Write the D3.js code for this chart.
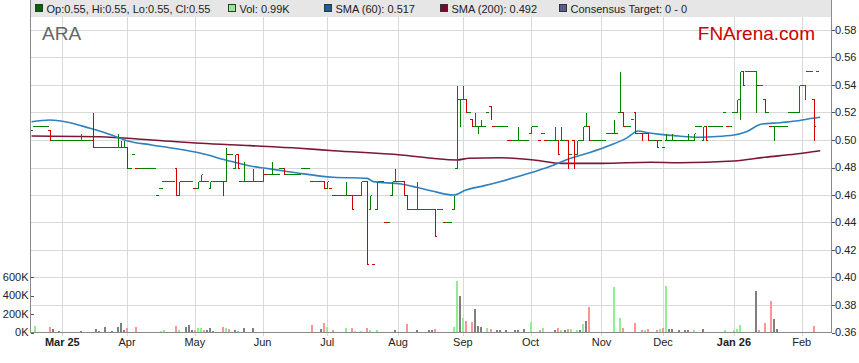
<!DOCTYPE html>
<html><head><meta charset="utf-8">
<script src="https://cdn.jsdelivr.net/npm/d3@7/dist/d3.min.js"></script>
<style>
body{margin:0;background:#fff;}
svg{display:block;font-family:"Liberation Sans",Arial,sans-serif;}
</style>
</head><body>
<svg id="chart" width="859" height="363"></svg>
<script>
// ---------- DATA (one entry per weekday starting 2025-02-17) ----------
const startDate = "2025-02-17";
const closes = [
.507,.51,.51,.51,.51,.51,.50,.50,.50,.50,
.50,.50,.50,.50,.50,.50,.50,.50,.50,.50,
.495,.495,.495,.495,.495,.495,.495,.495,.495,.495,
.495,.48,.48,.49,.48,.48,.48,.48,.48,.48,
.48,.46,.465,.47,.47,.47,.47,.46,.47,.47,
.47,.47,.47,.465,.47,.475,.47,.47,.47,.47,
.47,.47,.46,.495,.49,.49,.49,.48,.47,.47,
.47,.47,.47,.47,.47,.48,.475,.475,.475,.475,
.475,.48,.475,.475,.475,.475,.475,.475,.48,.48,
.48,.47,.47,.47,.47,.465,.47,.465,.46,.46,
.46,.46,.47,.46,.45,.46,.46,.47,.47,.41,
.46,.41,.47,.47,.47,.44,.44,.47,.47,.47,
.47,.46,.45,.45,.45,.45,.45,.45,.45,.45,
.45,.43,.45,.45,.44,.44,.44,.46,.53,.53,
.54,.52,.52,.51,.51,.51,.51,.51,.52,.515,
.51,.51,.51,.51,.51,.50,.50,.50,.50,.50,
.50,.50,.51,.51,.51,.50,.505,.50,.50,.50,
.50,.49,.50,.50,.48,.49,.48,.50,.50,.51,
.51,.50,.50,.50,.50,.50,.50,.505,.505,.515,
.505,.52,.51,.51,.51,.515,.505,.505,.50,.505,
.50,.50,.50,.495,.50,.495,.50,.50,.50,.50,
.50,.50,.50,.50,.50,.505,.51,.51,.51,.50,
.51,.51,.51,.51,.51,.52,.51,.51,.52,.53,
.55,.54,.55,.55,.55,.55,.54,.54,.52,.52,
.51,.51,.51,.51,.51,.51,.52,.52,.52,.54,
.54,.54,.55,.55,.51,.55
];
const opens = [
.507,.51,.51,.51,.51,.51,.507,.50,.50,.50,
.50,.50,.50,.50,.50,.50,.50,.50,.50,.50,
.50,.495,.495,.495,.495,.495,.495,.495,.495,.495,
.495,.495,.48,.49,.48,.48,.48,.48,.48,.48,
.48,.46,.465,.47,.47,.47,.47,.48,.46,.47,
.47,.47,.47,.465,.465,.47,.47,.47,.465,.47,
.47,.47,.47,.47,.49,.49,.48,.49,.47,.47,
.47,.47,.47,.47,.47,.47,.475,.475,.475,.475,
.475,.48,.48,.475,.475,.475,.475,.475,.48,.48,
.48,.47,.47,.47,.47,.47,.465,.465,.46,.46,
.46,.46,.46,.46,.46,.46,.46,.46,.47,.47,
.45,.41,.45,.47,.47,.44,.44,.46,.47,.47,
.47,.47,.46,.45,.45,.45,.45,.45,.45,.45,
.45,.45,.45,.45,.44,.44,.44,.45,.48,.53,
.53,.53,.52,.515,.51,.51,.51,.51,.52,.525,
.51,.51,.51,.51,.51,.50,.50,.50,.50,.50,
.50,.50,.505,.51,.51,.50,.505,.50,.50,.50,
.50,.50,.50,.50,.50,.49,.50,.49,.50,.50,
.51,.51,.50,.50,.50,.50,.50,.505,.505,.505,
.505,.52,.52,.51,.51,.515,.52,.505,.505,.505,
.505,.50,.50,.50,.50,.495,.50,.50,.50,.50,
.50,.50,.50,.50,.50,.50,.51,.51,.50,.51,
.51,.51,.51,.51,.51,.52,.51,.51,.52,.52,
.53,.55,.55,.55,.55,.55,.54,.54,.53,.52,
.51,.51,.51,.51,.51,.51,.52,.52,.52,.52,
.54,.54,.55,.55,.53,.55
];
const highs = [
.507,.51,.51,.51,.51,.51,.507,.50,.50,.50,
.50,.50,.50,.50,.50,.50,.505,.50,.50,.50,
.52,.495,.495,.495,.495,.495,.495,.495,.505,.50,
.50,.495,.48,.49,.48,.48,.48,.48,.48,.48,
.48,.46,.465,.47,.47,.47,.47,.48,.47,.47,
.47,.47,.47,.465,.47,.475,.47,.47,.47,.47,
.47,.47,.47,.495,.49,.49,.49,.49,.47,.485,
.47,.47,.48,.47,.47,.48,.475,.475,.485,.475,
.475,.48,.48,.475,.475,.475,.475,.475,.48,.48,
.48,.47,.47,.47,.47,.47,.47,.465,.46,.46,
.46,.46,.47,.46,.46,.46,.46,.47,.47,.47,
.46,.41,.47,.47,.47,.44,.44,.47,.48,.47,
.47,.47,.46,.45,.45,.47,.45,.45,.45,.45,
.45,.45,.45,.45,.44,.44,.44,.46,.54,.53,
.54,.53,.52,.515,.52,.51,.515,.51,.52,.525,
.51,.51,.51,.51,.51,.50,.50,.50,.51,.50,
.50,.50,.51,.51,.51,.50,.505,.50,.50,.50,
.51,.50,.51,.50,.50,.49,.50,.50,.50,.51,
.52,.51,.50,.50,.50,.50,.50,.505,.505,.515,
.505,.55,.52,.51,.51,.515,.52,.505,.505,.505,
.505,.50,.50,.50,.50,.495,.505,.50,.505,.50,
.50,.50,.50,.505,.50,.505,.51,.51,.51,.51,
.51,.51,.51,.51,.51,.52,.51,.51,.52,.53,
.55,.55,.55,.55,.55,.55,.54,.54,.53,.52,
.51,.51,.51,.51,.51,.51,.52,.52,.52,.54,
.54,.54,.55,.55,.53,.55
];
const lows = [
.507,.51,.51,.51,.51,.51,.50,.50,.50,.50,
.50,.50,.50,.50,.50,.50,.50,.50,.50,.50,
.495,.495,.495,.495,.495,.495,.495,.495,.495,.495,
.495,.48,.48,.49,.48,.48,.48,.48,.48,.48,
.48,.46,.465,.47,.47,.47,.47,.46,.46,.47,
.47,.47,.47,.465,.465,.47,.47,.47,.465,.47,
.47,.47,.46,.47,.49,.49,.48,.48,.47,.47,
.47,.47,.47,.47,.47,.47,.475,.475,.475,.475,
.475,.48,.475,.475,.475,.475,.475,.475,.48,.48,
.48,.47,.47,.47,.47,.465,.465,.465,.46,.46,
.46,.46,.46,.46,.45,.46,.46,.46,.47,.41,
.45,.41,.45,.47,.47,.44,.44,.46,.47,.47,
.47,.46,.45,.45,.45,.45,.45,.45,.45,.45,
.45,.43,.45,.45,.44,.44,.44,.45,.48,.51,
.53,.52,.52,.51,.51,.505,.51,.51,.52,.515,
.51,.51,.51,.51,.51,.50,.50,.50,.50,.50,
.50,.50,.505,.51,.51,.50,.505,.50,.50,.50,
.50,.49,.50,.50,.48,.49,.48,.49,.50,.50,
.51,.50,.50,.50,.50,.50,.50,.505,.505,.505,
.505,.52,.51,.51,.51,.515,.505,.505,.50,.505,
.50,.50,.50,.495,.50,.495,.50,.50,.50,.50,
.50,.50,.50,.50,.50,.50,.51,.51,.50,.50,
.51,.51,.51,.51,.51,.52,.51,.51,.52,.52,
.515,.54,.55,.55,.55,.52,.54,.54,.52,.52,
.51,.50,.51,.51,.51,.51,.52,.52,.52,.52,
.54,.53,.55,.55,.50,.55
];
// volumes in thousands of shares
const volumes = [
0,68,0,10,0,0,57,35,0,12,
10,0,0,0,0,0,20,0,0,0,
0,35,12,0,55,0,12,0,55,104,
25,45,0,0,57,0,0,0,0,0,
0,0,12,25,0,0,0,68,25,0,
57,80,25,25,45,45,25,25,45,12,
0,0,57,45,35,0,25,12,0,45,
0,0,45,0,0,10,0,0,10,10,
0,0,0,0,0,0,0,0,0,0,
0,80,0,0,35,104,57,0,25,0,
0,0,45,0,45,12,0,12,0,45,
25,0,25,0,0,0,0,0,25,0,
0,10,87,0,0,25,10,0,10,25,
25,35,0,0,0,0,0,57,555,396,
162,122,0,112,252,68,57,0,45,35,
0,25,25,10,25,0,0,25,25,0,
35,0,110,10,0,25,45,10,0,0,
25,45,25,25,35,35,10,25,25,97,
122,277,10,10,0,0,0,0,0,493,
0,158,50,0,0,0,100,0,25,25,
35,0,0,25,35,50,504,35,35,0,
25,0,25,25,0,25,10,0,35,0,
10,10,0,0,0,25,10,0,25,35,
85,10,0,0,0,450,25,0,100,0,
338,150,35,0,0,0,0,0,0,10,
10,0,0,0,68,0.99
];
// moving averages (day index, value)
const sma60Days = [0,6,11,19,26,31,39,46,55,63,71,76,82,87,98,109,111,120,125,130,137,141,147,152,162,168,175,181,188,193,197,200,204,210,216,221,228,232,237,243,248,252,256];
const sma60 = [.5133,.5145,.5133,.5085,.5036,.4995,.4964,.494,.4903,.4855,.4811,.4794,.4775,.4758,.4729,.4721,.4697,.468,.4656,.4629,.46,.4636,.4668,.4697,.4762,.4806,.4867,.4908,.4964,.5012,.5065,.5053,.5041,.5029,.502,.5024,.5036,.506,.5116,.5126,.5138,.5153,.5165];
const sma200Days = [0,22,39,55,71,87,98,120,130,138,142,152,163,172,185,201,210,228,238,248,256];
const sma200 = [.5029,.5024,.50,.4976,.4959,.494,.4922,.4891,.4867,.4855,.4867,.4871,.4855,.483,.483,.4838,.4835,.4847,.4874,.4898,.4922];
// axes
const monthTickDates = ["2025-03-03","2025-04-01","2025-05-01","2025-06-02","2025-07-01","2025-08-01","2025-09-01","2025-10-01","2025-11-03","2025-12-01","2026-01-01","2026-02-02"];
const monthTickLabels = ["Mar 25","Apr","May","Jun","Jul","Aug","Sep","Oct","Nov","Dec","Jan 26","Feb"];
const boldTicks = ["Mar 25","Jan 26"];
const priceTicks = [0.36,0.38,0.40,0.42,0.44,0.46,0.48,0.50,0.52,0.54,0.56,0.58];
const volTicks = [0,200,400,600];
const legendItems = ["Op:0.55, Hi:0.55, Lo:0.55, Cl:0.55","Vol: 0.99K","SMA (60): 0.517","SMA (200): 0.492","Consensus Target: 0 - 0"];
const legendColors = ["#006400","#90ee90","#1a5f9e","#7a0a2c","#5c5c8c"];

// ---------- LAYOUT ----------
const svg = d3.select("#chart");
const L = 30.5, R = 831.5, bandH = 17, baseY = 332.5;
const x = d3.scaleLinear().domain([0, 259.7]).range([31.5, 31.5 + 259.7 * 3.081]);
const y = d3.scaleLinear().domain([0.36, 0.58]).range([332.5, 30]);
const yv = d3.scaleLinear().domain([0, 600]).range([332.5, 277]);
const px = v => Math.round(v) + 0.5;

function dayIndex(s) {
  const d0 = new Date(startDate + "T00:00:00Z"), d1 = new Date(s + "T00:00:00Z");
  let n = 0;
  for (let d = new Date(d0); d < d1; d.setUTCDate(d.getUTCDate() + 1)) {
    const w = d.getUTCDay(); if (w !== 0 && w !== 6) n++;
  }
  return n;
}
const tickIdx = monthTickDates.map(dayIndex);

svg.append("rect").attr("width", 859).attr("height", 363).attr("fill", "#fff");

// grid
const grid = svg.append("g").attr("stroke", "#d9d9d9").attr("stroke-width", 1).attr("shape-rendering", "crispEdges");
grid.selectAll("line.h").data(priceTicks.slice(1)).join("line")
  .attr("x1", L).attr("x2", R).attr("y1", d => px(y(d))).attr("y2", d => px(y(d)));
grid.selectAll("line.v").data(tickIdx).join("line")
  .attr("x1", d => px(x(d))).attr("x2", d => px(x(d))).attr("y1", bandH).attr("y2", 336);

// legend band
svg.append("rect").attr("x", L).attr("y", 0).attr("width", R - L).attr("height", bandH).attr("fill", "#e6e6e6");
const legX = [35, 228, 324, 440, 559];
const lg = svg.append("g").attr("font-size", 11).attr("fill", "#222");
legendItems.forEach((t, k) => {
  lg.append("rect").attr("x", legX[k] + 0.5).attr("y", 4.5).attr("width", 7).attr("height", 7)
    .attr("fill", legendColors[k]).attr("stroke", "#333").attr("stroke-width", 1).attr("shape-rendering", "crispEdges");
  lg.append("text").attr("x", legX[k] + 11.5).attr("y", 12.5).text(t);
});

// watermark texts
svg.append("text").attr("x", 42).attr("y", 39.5).attr("font-size", 19).attr("fill", "#666").text("ARA");
svg.append("text").attr("x", 815).attr("y", 39.5).attr("text-anchor", "end").attr("font-size", 19).attr("fill", "#cc0000").text("FNArena.com");

// volume bars
const dir = closes.map((c, i) => i === 0 ? 1 : (c > closes[i - 1] ? 1 : (c < closes[i - 1] ? -1 : 0)));
const volColor = d => d > 0 ? "#8fee8f" : (d < 0 ? "#ff9494" : "#7f7f7f");
svg.append("g").attr("shape-rendering", "crispEdges").selectAll("rect")
  .data(volumes.map((v, i) => ({ v, i })).filter(d => d.v > 0)).join("rect")
  .attr("x", d => Math.round(x(d.i)) - 1).attr("width", 2)
  .attr("y", d => yv(d.v)).attr("height", d => baseY - yv(d.v))
  .attr("fill", d => volColor(dir[d.i]));

// SMA lines
const line = d3.line().curve(d3.curveMonotoneX);
svg.append("path").attr("d", line(sma200Days.map((d, k) => [x(d), y(sma200[k])])))
  .attr("fill", "none").attr("stroke", "#7d1636").attr("stroke-width", 1.6);
svg.append("path").attr("d", line(sma60Days.map((d, k) => [x(d), y(sma60[k])])))
  .attr("fill", "none").attr("stroke", "#2f80c0").attr("stroke-width", 1.6);

// OHLC bars
const bars = svg.append("g").attr("shape-rendering", "crispEdges").attr("stroke-width", 1);
closes.forEach((c, i) => {
  const col = dir[i] < 0 ? "#d40000" : "#008000";
  const cx = px(x(i));
  const g = bars.append("g").attr("stroke", col);
  if (highs[i] !== lows[i]) g.append("line").attr("x1", cx).attr("x2", cx).attr("y1", px(y(highs[i]))).attr("y2", px(y(lows[i])));
  g.append("line").attr("x1", x(i) - 1.6).attr("x2", cx).attr("y1", px(y(opens[i]))).attr("y2", px(y(opens[i])));
  g.append("line").attr("x1", cx).attr("x2", x(i) + 1.6).attr("y1", px(y(c))).attr("y2", px(y(c)));
});

// frame / axes
const fr = svg.append("g").attr("stroke", "#8a8a8a").attr("stroke-width", 1).attr("shape-rendering", "crispEdges");
fr.append("line").attr("x1", L).attr("x2", L).attr("y1", 0).attr("y2", baseY);
fr.append("line").attr("x1", R).attr("x2", R).attr("y1", 0).attr("y2", baseY);
fr.append("line").attr("x1", L).attr("x2", R).attr("y1", baseY).attr("y2", baseY);

// right price axis
const ra = svg.append("g").attr("transform", `translate(${R},0)`);
ra.selectAll("line").data(priceTicks).join("line").attr("x1", 0).attr("x2", 3)
  .attr("y1", d => px(y(d))).attr("y2", d => px(y(d))).attr("stroke", "#555").attr("shape-rendering", "crispEdges");
ra.selectAll("text").data(priceTicks).join("text").attr("x", 3.5).attr("y", d => y(d)).attr("dy", "0.35em")
  .attr("font-size", 11).attr("fill", "#222").text(d => d3.format(".2f")(d));

// left volume axis
const la = svg.append("g").attr("transform", `translate(${L},0)`);
la.selectAll("line").data(volTicks).join("line").attr("x1", 0).attr("x2", 3)
  .attr("y1", d => px(yv(d))).attr("y2", d => px(yv(d))).attr("stroke", "#555").attr("shape-rendering", "crispEdges");
la.selectAll("text").data(volTicks).join("text").attr("x", -2).attr("y", d => yv(d)).attr("dy", "0.35em")
  .attr("text-anchor", "end").attr("font-size", 11).attr("fill", "#222").text(d => d + "K");

// bottom month labels
svg.append("g").selectAll("text").data(tickIdx).join("text")
  .attr("x", d => x(d)).attr("y", 345.5).attr("text-anchor", "middle").attr("font-size", 11).attr("fill", "#222")
  .attr("font-weight", (d, k) => boldTicks.includes(monthTickLabels[k]) ? "bold" : "normal")
  .text((d, k) => monthTickLabels[k]);
</script>
</body></html>
